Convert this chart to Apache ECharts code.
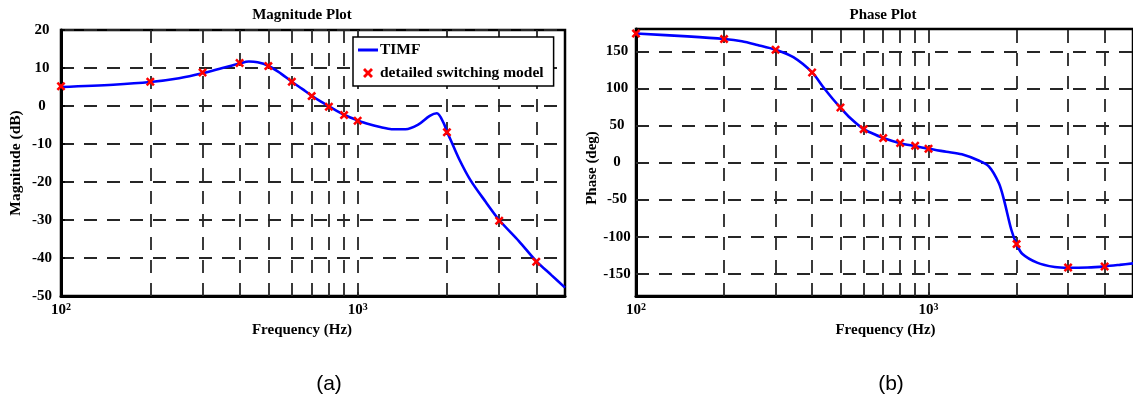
<!DOCTYPE html>
<html>
<head>
<meta charset="utf-8">
<script src="https://cdn.jsdelivr.net/npm/echarts@6/dist/echarts.min.js"></script>
<style>
  html, body { margin: 0; padding: 0; background: #fff; }
  #chart { width: 1133px; height: 400px; }
</style>
</head>
<body>
<div id="chart"></div>
<script>
// TIMF magnitude response: frequency (Hz) and gain (dB)
const magFreq = [100, 150, 200, 250, 300, 350, 400, 430, 460, 500, 550, 600, 650, 700, 750, 800, 850, 900, 950, 1000,
  1080, 1200, 1300, 1450, 1600, 1750, 1850, 1950, 2000, 2050, 2200, 2400, 2700, 3000, 3500, 4000, 4500, 5000];
const magTIMF = [5.0, 5.6, 6.3, 7.3, 8.6, 10.0, 11.2, 11.7, 11.5, 10.6, 8.6, 6.4, 4.5, 2.7, 1.2, -0.1, -1.3, -2.3, -3.1, -3.8,
  -4.7, -5.6, -6.1, -6.1, -4.9, -2.6, -1.9, -4.5, -6.8, -8.6, -14.0, -19.5, -25.2, -30.0, -35.6, -40.8, -44.5, -47.8];

// TIMF phase response: frequency (Hz) and phase (deg)
const phaseFreq = [100, 150, 200, 230, 260, 300, 345, 400, 435, 470, 500, 540, 600, 650, 700, 800, 900, 1000,
  1150, 1300, 1490, 1610, 1740, 1810, 1920, 2000, 2090, 2350, 2700, 3000, 3500, 4000, 4500, 5000];
const phaseTIMF = [174, 170, 166.5, 163.5, 158.5, 152, 142, 121.5, 102.5, 86, 74, 60, 45, 38.5, 33, 26, 22, 18.5,
  14.5, 11, 2.3, -5.5, -28, -50, -91, -110, -123, -135, -141, -142, -141.5, -140, -138, -136];

// Detailed switching model samples
const markerFreq = [100, 200, 300, 400, 500, 600, 700, 800, 900, 1000, 2000, 3000, 4000];
const magMarkers = [5.2, 6.4, 8.8, 11.3, 10.5, 6.4, 2.6, -0.2, -2.4, -3.9, -6.9, -30.2, -41.0];
const phaseMarkers = [174, 166.4, 152, 121.4, 74.2, 45, 32.9, 26.2, 22.5, 18.5, -110, -141.6, -140.2];

// Grid positions and tick labels
const gridFreqs = [200, 300, 400, 500, 600, 700, 800, 900, 1000, 2000, 3000, 4000];
const phaseTicks = [-150, -100, -50, 0, 50, 100, 150];
const decadeExponents = { 100: '2', 1000: '3' };

const SERIF = 'Liberation Serif';
const gridDash = { color: '#262626', width: 1.8, type: [13, 10] };
const crossPath = 'path://M0,2L2,0L5,3L8,0L10,2L7,5L10,8L8,10L5,7L2,10L0,8L3,5Z';
const legendLinePath = 'path://M0,0L20,0L20,3L0,3Z';

const pairs = (xs, ys) => xs.map((x, i) => [x, ys[i]]);

function decadeLabel(v) {
  const e = Math.log10(v);
  const r = Math.round(e);
  if (Math.abs(e - r) > 1e-6) return '';
  const exp = decadeExponents[Math.pow(10, r)];
  return exp ? '{n|10}{s|' + exp + '}' : '';
}

function xAxisFor(gridIndex) {
  return {
    type: 'log', logBase: 10, gridIndex, min: 100, max: 5000,
    name: 'Frequency (Hz)', nameLocation: 'middle', nameGap: 21,
    nameTextStyle: { fontFamily: SERIF, fontWeight: 'bold', fontSize: 15, color: '#000',
      padding: gridIndex === 0 ? [0, 22, 0, 0] : [0, 0, 0, 2] },
    axisLine: { show: true, onZero: false, lineStyle: { color: '#000', width: 3 } },
    axisTick: { show: true, inside: true, length: 4, lineStyle: { color: '#000', width: 1.5 } },
    splitLine: { show: false },
    minorTick: { show: false },
    axisLabel: {
      margin: 6, formatter: decadeLabel, showMaxLabel: false,
      rich: {
        n: { fontFamily: SERIF, fontWeight: 'bold', fontSize: 15, color: '#000' },
        s: { fontFamily: SERIF, fontWeight: 'bold', fontSize: 10, color: '#000', padding: [0, 0, 7, 0] }
      }
    }
  };
}

const yLabel = { fontFamily: SERIF, fontWeight: 'bold', fontSize: 15, color: '#000', align: 'center', margin: 19 };

const option = {
  animation: false,
  backgroundColor: '#fff',
  grid: [
    { left: 61, top: 30, width: 504, height: 266, show: true, borderColor: '#000', borderWidth: 2.5 },
    { left: 636, top: 29, width: 503, height: 267, show: true, borderColor: '#000', borderWidth: 2.5 }
  ],
  xAxis: [xAxisFor(0), xAxisFor(1)],
  yAxis: [
    {
      type: 'value', gridIndex: 0, min: -50, max: 20, interval: 10,
      name: 'Magnitude (dB)', nameLocation: 'middle', nameGap: 37, nameRotate: 90,
      nameTextStyle: { fontFamily: SERIF, fontWeight: 'bold', fontSize: 15.5, color: '#000' },
      axisLine: { show: true, lineStyle: { color: '#000', width: 3 } },
      axisTick: { show: true, inside: true, length: 4, lineStyle: { color: '#000', width: 1.5 } },
      splitLine: { show: true, lineStyle: gridDash },
      axisLabel: yLabel
    },
    {
      type: 'value', gridIndex: 1, min: -180, max: 180,
      name: 'Phase (deg)', nameLocation: 'middle', nameGap: 35, nameRotate: 90,
      nameTextStyle: { fontFamily: SERIF, fontWeight: 'bold', fontSize: 15, color: '#000', padding: [0, 11, 0, 0] },
      axisLine: { show: true, lineStyle: { color: '#000', width: 3 } },
      axisTick: { show: true, inside: true, length: 4, customValues: phaseTicks, lineStyle: { color: '#000', width: 1.5 } },
      splitLine: { show: false },
      axisLabel: Object.assign({ customValues: phaseTicks }, yLabel)
    }
  ],
  legend: {
    left: 353, top: 37, orient: 'vertical',
    backgroundColor: '#fff', borderColor: '#000', borderWidth: 1.5,
    padding: [5, 10, 5, 5], itemGap: 7, itemWidth: 20, itemHeight: 10,
    textStyle: { fontFamily: SERIF, fontWeight: 'bold', fontSize: 15.5, color: '#000', padding: [0, 0, 0, -3] },
    data: [
      { name: 'TIMF', icon: legendLinePath },
      { name: 'detailed switching model' }
    ]
  },
  graphic: [
    { type: 'text', x: 302, y: 15, style: { text: 'Magnitude Plot', fontFamily: SERIF, fontWeight: 'bold', fontSize: 15, fill: '#000', align: 'center', verticalAlign: 'middle' } },
    { type: 'text', x: 883, y: 15, style: { text: 'Phase Plot', fontFamily: SERIF, fontWeight: 'bold', fontSize: 15, fill: '#000', align: 'center', verticalAlign: 'middle' } },
    { type: 'text', x: 329, y: 384, style: { text: '(a)', fontFamily: 'Liberation Sans', fontSize: 21, fill: '#000', align: 'center', verticalAlign: 'middle' } },
    { type: 'text', x: 891, y: 384, style: { text: '(b)', fontFamily: 'Liberation Sans', fontSize: 21, fill: '#000', align: 'center', verticalAlign: 'middle' } }
  ],
  series: [
    {
      name: 'TIMF', type: 'line', xAxisIndex: 0, yAxisIndex: 0, z: 3,
      data: pairs(magFreq, magTIMF), smooth: 0.3, symbol: 'none', showSymbol: false,
      lineStyle: { color: '#0000ff', width: 2.6 }, itemStyle: { color: '#0000ff' },
      markLine: {
        z: 1, silent: true, symbol: 'none', label: { show: false }, lineStyle: gridDash,
        data: gridFreqs.map(f => ({ xAxis: f }))
      }
    },
    {
      name: 'detailed switching model', type: 'scatter', xAxisIndex: 0, yAxisIndex: 0, z: 4,
      data: pairs(markerFreq, magMarkers), symbol: crossPath, symbolSize: 9,
      itemStyle: { color: '#ff0000', opacity: 1 }
    },
    {
      name: 'TIMF', type: 'line', xAxisIndex: 1, yAxisIndex: 1, z: 3,
      data: pairs(phaseFreq, phaseTIMF), smooth: 0.3, symbol: 'none', showSymbol: false,
      lineStyle: { color: '#0000ff', width: 2.6 }, itemStyle: { color: '#0000ff' },
      markLine: {
        z: 1, silent: true, symbol: 'none', label: { show: false }, lineStyle: gridDash,
        data: gridFreqs.map(f => ({ xAxis: f })).concat(phaseTicks.map(v => ({ yAxis: v })))
      }
    },
    {
      name: 'detailed switching model', type: 'scatter', xAxisIndex: 1, yAxisIndex: 1, z: 4,
      data: pairs(markerFreq, phaseMarkers), symbol: crossPath, symbolSize: 9,
      itemStyle: { color: '#ff0000', opacity: 1 }
    }
  ]
};

const chart = echarts.init(document.getElementById('chart'), null, { renderer: 'canvas' });
chart.setOption(option);
</script>
</body>
</html>
